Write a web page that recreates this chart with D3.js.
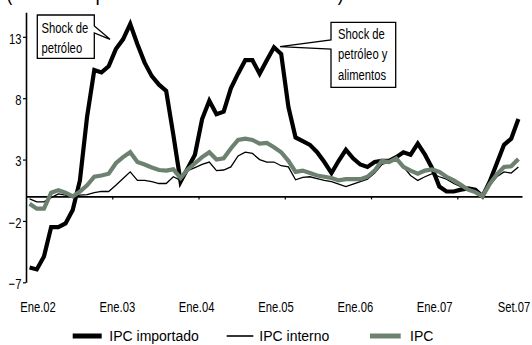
<!DOCTYPE html>
<html>
<head>
<meta charset="utf-8">
<script src="https://cdn.jsdelivr.net/npm/d3@7"></script>
<style>
  html, body { margin: 0; padding: 0; background: #fff; }
  svg { display: block; }
  text { font-family: "Liberation Sans", Arial, sans-serif; }
</style>
</head>
<body>
<svg id="chart" width="532" height="345"></svg>
<script>
// Monthly categories, Ene.02 .. Set.07
const monthNames = ["Ene","Feb","Mar","Abr","May","Jun","Jul","Ago","Set","Oct","Nov","Dic"];
const years = ["02","03","04","05","06","07"];
const months = [];
years.forEach(y => monthNames.forEach(m => { if (months.length < 69) months.push(m + "." + y); }));

// 12-month % change
const ipcImportado = [
  -5.8, -5.95, -4.9, -2.5, -2.5, -2.2, -1.1, 1.3, 6.5, 10.3, 10.1, 10.6,
  12.0, 12.8, 14.05, 12.4, 10.9, 9.8, 9.1, 8.6, 5.0, 1.2, 2.3, 3.4,
  6.3, 7.8, 6.7, 6.9, 8.8, 10.0, 11.1, 11.1, 10.0, 11.1, 12.15, 11.6,
  7.3, 4.8, 4.5, 4.2, 3.6, 2.8, 1.9, 2.9, 3.8, 3.1, 2.6, 2.4,
  2.8, 2.9, 2.9, 3.2, 3.6, 3.4, 4.3, 3.4, 2.3, 0.8, 0.4, 0.4,
  0.55, 0.65, 0.55, 0.0, 1.2, 2.7, 4.2, 4.7, 6.3
];
const ipcInterno = [
  -0.2, -0.45, -0.45, -0.1, 0.2, 0.1, 0.0, 0.1, 0.15, 0.3, 0.4, 0.4,
  0.9, 1.45, 2.0, 1.3, 1.3, 1.2, 1.05, 1.05, 1.6, 1.3, 2.1, 2.35,
  2.6, 2.8, 2.1, 2.15, 2.4, 3.3, 3.6, 3.5, 3.0, 2.8, 2.8, 2.5,
  2.4, 1.35, 1.55, 1.6, 1.45, 1.3, 1.2, 1.0, 0.8, 1.0, 1.2, 1.4,
  1.9, 2.6, 2.8, 3.1, 2.4, 1.7, 1.3, 1.6, 1.85, 1.6, 1.4, 1.05,
  0.8, 0.5, 0.3, 0.0, 0.9, 1.6, 2.0, 1.9, 2.4
];
const ipc = [
  -0.6, -1.0, -1.0, 0.3, 0.5, 0.3, 0.0, 0.4, 0.9, 1.6, 1.7, 1.85,
  2.7, 3.2, 3.6, 2.8, 2.6, 2.35, 2.15, 2.1, 2.2, 1.5, 2.2, 2.7,
  3.2, 3.6, 3.0, 3.1, 3.9, 4.6, 4.7, 4.6, 4.3, 4.35, 4.0, 3.6,
  2.9, 2.0, 2.1, 1.9, 1.7, 1.6, 1.5, 1.3, 1.4, 1.4, 1.4, 1.6,
  2.1, 2.9, 2.8, 3.1, 2.4, 2.1, 1.85, 2.1, 2.2, 2.0, 1.6, 1.3,
  0.95, 0.55, 0.35, 0.0, 1.0, 1.8, 2.4, 2.45, 3.05
];

const tickLabels = ["Ene.02","Ene.03","Ene.04","Ene.05","Ene.06","Ene.07","Set.07"];
const yTicks = [-7, -2, 3, 8, 13];
const yearBreaks = [12, 24, 36, 48, 60];

// horizontal squeeze for the condensed labels
const SQ = 0.75;

const svg = d3.select("#chart");

// category index scale: each month occupies one slot, points sit mid-slot
const x = d3.scaleLinear().domain([0, months.length]).range([26, 522]);
const y = d3.scaleLinear().domain([-7, 15]).range([282.3, 12.3]);

// title (only its lowest part falls inside the frame)
svg.append("text")
  .attr("x", 6).attr("y", 0)
  .attr("font-size", 24)
  .attr("textLength", 338)
  .attr("lengthAdjust", "spacingAndGlyphs")
  .text("(Variación porcentual últimos 12 meses)");

// y axis
const yAxis = svg.append("g")
  .attr("transform", "translate(26,0)")
  .call(d3.axisLeft(y).tickValues(yTicks).tickSize(3).tickSizeOuter(0).tickFormat(d3.format("d")));
yAxis.select(".domain").attr("stroke", "#000").attr("stroke-width", 1.6);
yAxis.selectAll(".tick line").attr("stroke", "#000").attr("stroke-width", 1.2);
yAxis.selectAll(".tick text")
  .attr("font-size", 15).attr("fill", "#000")
  .attr("x", -4.6 / SQ).attr("dy", "0.42em")
  .attr("transform", `scale(${SQ},1)`);

// zero line with year ticks
const xAxis = svg.append("g")
  .attr("transform", `translate(0,${y(0)})`)
  .call(d3.axisBottom(x).tickValues(yearBreaks).tickSize(3).tickSizeOuter(0).tickFormat(""));
xAxis.select(".domain").attr("stroke", "#000").attr("stroke-width", 1.6);
xAxis.selectAll(".tick line").attr("stroke", "#000").attr("stroke-width", 1.2);

// period labels along the bottom
const xl = d3.scalePoint().domain(tickLabels).range([37.5, 513.5]);
const labelAxis = svg.append("g")
  .attr("transform", "translate(0,301)")
  .call(d3.axisBottom(xl).tickSize(0).tickPadding(0));
labelAxis.select(".domain").remove();
labelAxis.selectAll(".tick text")
  .attr("font-size", 15).attr("fill", "#000")
  .attr("transform", `scale(${SQ},1)`);

// series
const line = d3.line()
  .x((d, i) => x(i + 0.5))
  .y(d => y(d));

const series = [
  { data: ipcImportado, color: "#000", width: 4.2 },
  { data: ipcInterno, color: "#000", width: 1.3 },
  { data: ipc, color: "#6d8170", width: 4.2 }
];
svg.append("g").selectAll("path")
  .data(series)
  .join("path")
  .attr("d", s => line(s.data))
  .attr("fill", "none")
  .attr("stroke", s => s.color)
  .attr("stroke-width", s => s.width)
  .attr("stroke-linejoin", "miter")
  .attr("stroke-miterlimit", 4);

// callouts
const callouts = [
  { path: "M37.3,15 H94.3 V26 L110,39.3 L94.3,33 V58.3 H37.3 Z", tx: 41.5, ty: 32.5, lines: ["Shock de", "petróleo"] },
  { path: "M331,22.3 H395.7 V87.3 H331 V49 L280,46.7 L331,40 Z", tx: 338, ty: 38.5, lines: ["Shock de", "petróleo y", "alimentos"] }
];
const cg = svg.append("g");
callouts.forEach(c => {
  cg.append("path").attr("d", c.path).attr("fill", "#fff").attr("stroke", "#000").attr("stroke-width", 1.3);
  const t = cg.append("g")
    .attr("transform", `translate(${c.tx},${c.ty}) scale(${SQ},1)`)
    .append("text").attr("font-size", 15).attr("fill", "#000");
  c.lines.forEach((s, k) => t.append("tspan").attr("x", 0).attr("y", k * 21).text(s));
});

// legend
const legend = [
  { label: "IPC importado", color: "#000", width: 5, x0: 72.7, x1: 101.7, tx: 109.3 },
  { label: "IPC interno", color: "#000", width: 1.6, x0: 226.7, x1: 253.3, tx: 259.3 },
  { label: "IPC", color: "#6d8170", width: 5, x0: 370, x1: 400.7, tx: 410 }
];
const lg = svg.append("g");
lg.selectAll("line").data(legend).join("line")
  .attr("x1", d => d.x0).attr("x2", d => d.x1)
  .attr("y1", 336).attr("y2", 336)
  .attr("stroke", d => d.color).attr("stroke-width", d => d.width);
lg.selectAll("text").data(legend).join("text")
  .attr("x", d => d.tx).attr("y", 341)
  .attr("font-size", 14).attr("fill", "#000")
  .text(d => d.label);
</script>
</body>
</html>
